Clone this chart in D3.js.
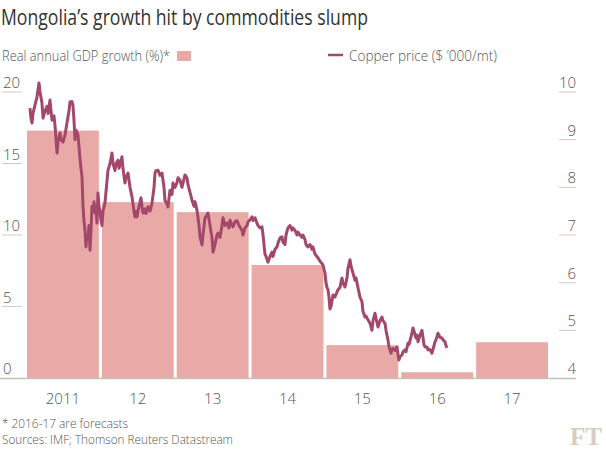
<!DOCTYPE html>
<html><head><meta charset="utf-8">
<script src="https://cdn.jsdelivr.net/npm/d3@7"></script>
<style>
html,body{margin:0;padding:0;background:#fff;}
svg text{font-family:"Open Sans",sans-serif;font-weight:300;}
</style></head>
<body><svg id="chart" width="606" height="456"></svg>
<script>
const years = ["2011","12","13","14","15","16","17"];
const gdpGrowth = [17.3, 12.3, 11.6, 7.9, 2.3, 0.4, 2.5];
const leftTicks = [0, 5, 10, 15, 20];
const rightTicks = [4, 5, 6, 7, 8, 9, 10];
const copperYears = [2011.040,2011.053,2011.067,2011.080,2011.107,2011.134,2011.160,2011.174,2011.200,2011.214,2011.240,2011.267,2011.281,2011.307,2011.321,2011.334,2011.361,2011.374,2011.401,2011.414,2011.441,2011.454,2011.481,2011.508,2011.534,2011.561,2011.574,2011.601,2011.614,2011.628,2011.641,2011.655,2011.681,2011.708,2011.721,2011.735,2011.748,2011.761,2011.775,2011.788,2011.801,2011.815,2011.828,2011.842,2011.855,2011.868,2011.882,2011.895,2011.908,2011.922,2011.935,2011.948,2011.962,2011.975,2011.988,2012.002,2012.015,2012.042,2012.055,2012.082,2012.109,2012.135,2012.149,2012.176,2012.189,2012.216,2012.229,2012.256,2012.269,2012.282,2012.309,2012.322,2012.349,2012.376,2012.403,2012.429,2012.443,2012.456,2012.469,2012.496,2012.523,2012.536,2012.550,2012.576,2012.590,2012.616,2012.643,2012.670,2012.697,2012.710,2012.723,2012.750,2012.777,2012.803,2012.830,2012.843,2012.870,2012.884,2012.910,2012.937,2012.950,2012.977,2013.004,2013.017,2013.044,2013.070,2013.111,2013.137,2013.151,2013.177,2013.204,2013.231,2013.244,2013.271,2013.298,2013.311,2013.338,2013.351,2013.378,2013.404,2013.418,2013.445,2013.471,2013.485,2013.511,2013.538,2013.551,2013.578,2013.605,2013.618,2013.645,2013.672,2013.698,2013.712,2013.738,2013.752,2013.779,2013.805,2013.832,2013.845,2013.872,2013.885,2013.912,2013.939,2013.952,2013.979,2014.006,2014.019,2014.046,2014.072,2014.086,2014.112,2014.139,2014.153,2014.166,2014.179,2014.193,2014.219,2014.246,2014.273,2014.286,2014.313,2014.340,2014.353,2014.380,2014.406,2014.420,2014.446,2014.460,2014.486,2014.513,2014.540,2014.553,2014.580,2014.607,2014.620,2014.647,2014.673,2014.687,2014.714,2014.727,2014.754,2014.780,2014.807,2014.820,2014.847,2014.874,2014.887,2014.914,2014.941,2014.954,2014.981,2014.994,2015.007,2015.021,2015.034,2015.047,2015.061,2015.088,2015.114,2015.141,2015.154,2015.181,2015.208,2015.221,2015.248,2015.275,2015.288,2015.315,2015.328,2015.355,2015.381,2015.395,2015.421,2015.448,2015.475,2015.488,2015.515,2015.528,2015.555,2015.582,2015.608,2015.622,2015.649,2015.662,2015.689,2015.715,2015.742,2015.755,2015.782,2015.796,2015.822,2015.836,2015.849,2015.862,2015.876,2015.889,2015.916,2015.943,2015.956,2015.969,2015.983,2016.009,2016.023,2016.049,2016.063,2016.090,2016.103,2016.130,2016.143,2016.156,2016.170,2016.196,2016.210,2016.223,2016.250,2016.276,2016.290,2016.303,2016.317,2016.343,2016.357,2016.383,2016.410,2016.424,2016.450,2016.464,2016.490,2016.504,2016.517,2016.544,2016.557,2016.584,2016.597,2016.611];
const copperPrice = [9.66,9.45,9.35,9.55,9.73,9.9,10.19,10.0,9.77,9.45,9.6,9.7,9.55,9.83,9.6,9.41,9.5,9.3,8.72,8.95,9.14,9.0,8.95,9.1,9.35,9.6,9.79,9.8,9.72,9.4,9.0,9.2,9.1,8.6,8.4,8.22,7.6,7.3,7.1,6.75,7.0,6.9,7.2,6.68,7.1,7.6,7.5,7.7,7.46,7.6,7.25,7.88,7.6,7.5,7.3,7.2,7.5,7.67,7.9,8.36,8.5,8.72,8.5,8.35,8.5,8.57,8.4,8.55,8.64,8.4,8.09,8.2,8.3,8.0,7.8,7.5,7.38,7.5,7.38,7.6,7.78,7.6,7.46,7.55,7.45,7.59,7.5,7.67,8.0,8.3,8.35,8.36,8.25,8.3,8.0,7.73,7.65,7.59,7.94,7.85,8.09,8.0,8.1,8.2,8.15,8.0,8.26,8.2,8.05,7.9,7.73,7.6,7.7,7.52,7.2,6.96,6.79,7.0,7.36,7.42,7.46,7.2,6.95,6.64,6.8,7.0,7.04,6.95,7.2,7.36,7.2,7.25,7.15,7.31,7.2,7.17,7.28,7.3,7.2,7.17,7.1,7.0,7.15,7.2,7.27,7.32,7.38,7.3,7.36,7.25,7.2,7.15,7.17,7.0,6.8,6.6,6.55,6.43,6.55,6.64,6.55,6.7,6.75,6.83,6.94,6.96,6.85,6.8,7.0,7.15,7.2,7.1,7.15,7.1,7.0,7.06,7.0,6.95,7.0,6.9,6.8,6.75,6.8,6.7,6.75,6.6,6.55,6.52,6.45,6.4,6.37,6.2,6.0,5.9,5.85,5.7,5.45,5.5,5.74,5.7,5.8,5.85,5.9,6.1,5.99,5.91,6.1,6.3,6.48,6.35,6.2,6.05,6.1,5.9,5.7,5.6,5.4,5.28,5.3,5.22,5.15,5.0,5.2,5.36,5.25,5.07,5.2,5.28,5.2,5.15,5.0,4.8,4.65,4.6,4.52,4.6,4.62,4.58,4.65,4.5,4.38,4.45,4.48,4.55,4.59,4.55,4.73,4.7,4.86,4.95,5.05,4.98,4.84,4.9,4.76,4.9,5.0,4.85,4.7,4.65,4.65,4.59,4.6,4.52,4.6,4.76,4.8,4.94,4.9,4.85,4.84,4.8,4.76,4.68,4.63];

const svg = d3.select("#chart");
const plotTop = 92, base = 378;
const x = d3.scaleBand().domain(years).range([27, 548]).paddingInner(0.04).paddingOuter(0);
const yL = d3.scaleLinear().domain([0, 20]).range([base, plotTop]);
const yR = d3.scaleLinear().domain([4, 10]).range([base, plotTop]);
const xt = d3.scaleLinear().domain([2011, 2018]).range([x.range()[0], x.range()[0] + 7 * x.step()]);

const barColor = "#e9a9a7", lineColor = "#a3486b", tickColor = "#d4cbc1", textColor = "#555";

svg.append("text").attr("x", 1).attr("y", 25).attr("font-size", 22).attr("fill", "#333")
  .style("font-weight", 400)
  .attr("textLength", 367).attr("lengthAdjust", "spacingAndGlyphs")
  .text("Mongolia’s growth hit by commodities slump");

svg.append("text").attr("x", 2).attr("y", 61).attr("font-size", 14).attr("fill", textColor)
  .attr("textLength", 168).attr("lengthAdjust", "spacingAndGlyphs")
  .text("Real annual GDP growth (%)*");
svg.append("rect").attr("x", 177).attr("y", 51).attr("width", 14).attr("height", 10).attr("fill", barColor);
svg.append("line").attr("x1", 328).attr("x2", 343).attr("y1", 55).attr("y2", 55).attr("stroke", lineColor).attr("stroke-width", 2.5);
svg.append("text").attr("x", 349).attr("y", 61).attr("font-size", 14).attr("fill", textColor)
  .attr("textLength", 148).attr("lengthAdjust", "spacingAndGlyphs")
  .text("Copper price ($ ’000/mt)");

const gl = svg.append("g");
leftTicks.forEach(t => {
  if (t !== 0) gl.append("line").attr("x1", 2).attr("x2", 22).attr("y1", yL(t)).attr("y2", yL(t)).attr("stroke", tickColor).attr("stroke-width", 1);
  gl.append("text").attr("x", 3).attr("y", yL(t) - 4).attr("font-size", 15).attr("fill", textColor).text(t);
});
const gr = svg.append("g");
rightTicks.forEach(t => {
  if (t !== 4) gr.append("line").attr("x1", 559).attr("x2", 576).attr("y1", yR(t)).attr("y2", yR(t)).attr("stroke", tickColor).attr("stroke-width", 1);
  gr.append("text").attr("x", 576).attr("y", yR(t) - 4).attr("text-anchor", "end").attr("font-size", 15).attr("fill", textColor).text(t);
});

svg.append("g").selectAll("rect").data(years).join("rect")
  .attr("x", d => x(d)).attr("width", x.bandwidth())
  .attr("y", (d, i) => yL(gdpGrowth[i])).attr("height", (d, i) => base - yL(gdpGrowth[i]))
  .attr("fill", barColor);

svg.append("line").attr("x1", 0).attr("x2", 576).attr("y1", base + 0.5).attr("y2", base + 0.5).attr("stroke", "#c3c1b9").attr("stroke-width", 1.5);

const pts = copperYears.map((t, i) => [t, copperPrice[i]]);
svg.append("path").datum(pts)
  .attr("fill", "none").attr("stroke", lineColor).attr("stroke-width", 3).attr("stroke-linejoin", "round")
  .attr("d", d3.line().x(d => xt(d[0])).y(d => yR(d[1])));

svg.append("g").selectAll("text").data(years).join("text")
  .attr("x", d => x(d) + x.bandwidth() / 2).attr("y", 404).attr("text-anchor", "middle")
  .attr("font-size", 15).attr("fill", "#555").text(d => d);

svg.append("text").attr("x", 2).attr("y", 428).attr("font-size", 12).attr("fill", "#555")
  .attr("textLength", 126).attr("lengthAdjust", "spacingAndGlyphs").text("* 2016-17 are forecasts");
svg.append("text").attr("x", 2).attr("y", 444).attr("font-size", 12).attr("fill", "#555")
  .attr("textLength", 231).attr("lengthAdjust", "spacingAndGlyphs").text("Sources: IMF; Thomson Reuters Datastream");

svg.append("text").attr("x", 602).attr("y", 445).attr("text-anchor", "end").attr("font-size", 25)
  .attr("fill", "#d9ccbe").style("font-family", "'Liberation Serif', serif").style("font-weight", "bold").text("FT");
</script></body></html>
